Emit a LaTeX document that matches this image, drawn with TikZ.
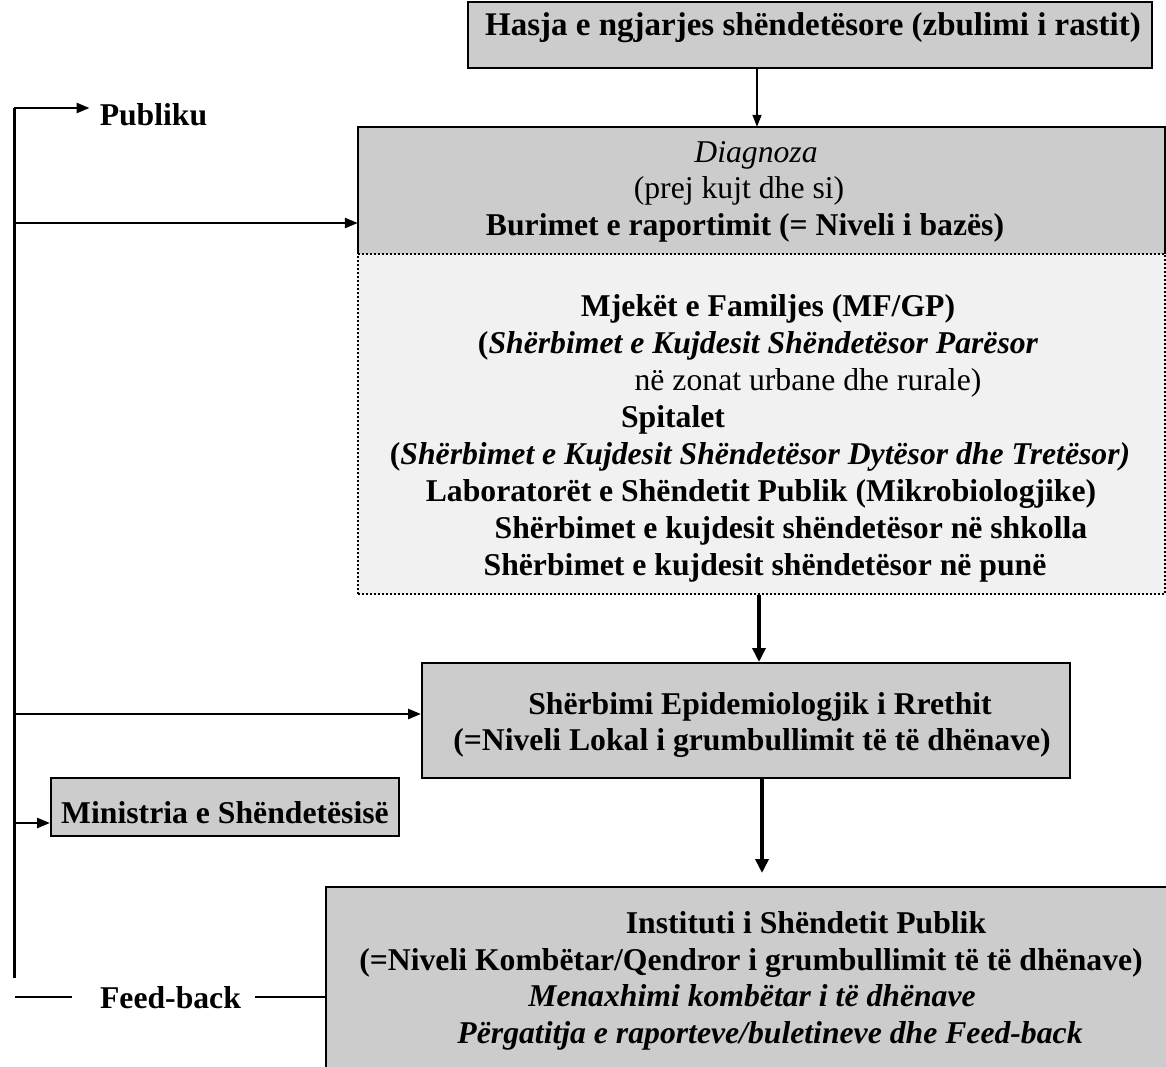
\documentclass[tikz,border=0pt]{standalone}
\usepackage{fontspec}
\setmainfont{Liberation Serif}
\usetikzlibrary{arrows.meta,positioning}
\definecolor{boxgray}{HTML}{CCCCCC}
\definecolor{boxlight}{HTML}{F1F1F1}

\begin{document}
\begin{tikzpicture}[x=1pt,y=-1pt,
  every node/.style={font=\fontsize{31.7}{36.5}\selectfont\bfseries, inner sep=0pt},
  box/.style={draw, line width=2pt, fill=boxgray},
  txt/.style={anchor=base},
  thinarrow/.style={line width=1.5pt, -{Triangle[length=12pt,width=9pt]}},
  thickarrow/.style={line width=4pt, -{Triangle[length=14pt,width=13pt]}},
  branch/.style={line width=2.5pt, -{Triangle[length=13pt,width=10pt]}},
  dots/.style={line width=2pt, dash pattern=on 2pt off 2pt}]
  \useasboundingbox (0,0) rectangle (1166,1066);
  \clip (0,0) rectangle (1166,1066);

  % boxes
  \node[box, minimum width=684, minimum height=66] (hasja) at (810,35) {};
  \node[fill=boxgray, minimum width=807, minimum height=127] (diag) at (761.5,190.5) {};
  \node[fill=boxlight, draw, dots, minimum width=807, minimum height=340] (light) at (761.5,424) {};
  \draw[line width=2pt] (diag.south west) |- (diag.north east) -- (diag.south east);
  \node[box, minimum width=648, minimum height=115] (rreth) at (746,720.5) {};
  \node[box, minimum width=348, minimum height=58] (mini) at (225,807) {};
  \node[box, minimum width=854, minimum height=193] (inst) at (753,983.5) {};

  % texts
  \node[txt, font=\fontsize{33}{38}\selectfont\bfseries] (hasjaT) at (813,35) {Hasja e ngjarjes shëndetësore (zbulimi i rastit)};
  \node[txt, font=\fontsize{31.7}{36.5}\selectfont\itshape] (diag1) at (756,162) {Diagnoza};
  \node[txt, font=\fontsize{31.7}{36.5}\selectfont] (diag2) at (739,198.5) {(prej kujt dhe si)};
  \node[txt] (diag3) at (745,235) {Burimet e raportimit (= Niveli i bazës)};

  \node[txt] (l1) at (768,316) {Mjekët e Familjes (MF/GP)};
  \node[txt] (l2) at (758,353) {(\itshape Shërbimet e Kujdesit Shëndetësor Parësor};
  \node[txt, font=\fontsize{31.7}{36.5}\selectfont] (l3) at (808,390) {në zonat urbane dhe rurale)};
  \node[txt] (l4) at (673,427) {Spitalet};
  \node[txt] (l5) at (760,464) {(\itshape Shërbimet e Kujdesit Shëndetësor Dytësor dhe Tretësor)};
  \node[txt] (l6) at (761,501) {Laboratorët e Shëndetit Publik (Mikrobiologjike)};
  \node[txt] (l7) at (791,538) {Shërbimet e kujdesit shëndetësor në shkolla};
  \node[txt] (l8) at (765,575) {Shërbimet e kujdesit shëndetësor në punë};

  \node[txt] (rreth1) at (760,714) {Shërbimi Epidemiologjik i Rrethit};
  \node[txt] (rreth2) at (752,750.5) {(=Niveli Lokal i grumbullimit të të dhënave)};

  \node[txt] (miniT) at (225,823) {Ministria e Shëndetësisë};

  \node[txt] (inst1) at (806,933.5) {Instituti i Shëndetit Publik};
  \node[txt] (inst2) at (751,970) {(=Niveli Kombëtar/Qendror i grumbullimit të të dhënave)};
  \node[txt, font=\fontsize{31.7}{36.5}\selectfont\bfseries\itshape] (inst3) at (752,1006.5) {Menaxhimi kombëtar i të dhënave};
  \node[txt, font=\fontsize{31.7}{36.5}\selectfont\bfseries\itshape] (inst4) at (770,1043) {Përgatitja e raporteve/buletineve dhe Feed-back};

  \node[txt] (publ) at (153.5,125) {Publiku};
  \node[txt] (fb) at (170.5,1008) {Feed-back};

  % flow down
  \draw[thinarrow] ([xshift=-53pt]hasja.south) -- ([xshift=-53pt]hasja.south |- diag.north);
  \draw[thickarrow] ([xshift=-2.5pt]light.south) -- ([xshift=-2.5pt]light.south |- rreth.north);
  \draw[thickarrow, shorten >=13pt] ([xshift=16pt]rreth.south) -- ([xshift=16pt]rreth.south |- inst.north);

  % feed-back trunk
  \coordinate (jpubl) at (14,108);
  \coordinate (jdiag) at (14,223);
  \coordinate (jrreth) at (14,714);
  \coordinate (jmini) at (14,823);
  \coordinate (jend) at (14,978);
  \draw[line width=3pt] (jpubl) -- (jend);
  \draw[branch, shorten >=10pt] (jpubl) -- (jpubl -| publ.west);
  \draw[branch] (jdiag) -- (jdiag -| diag.west);
  \draw[branch] (jrreth) -- (jrreth -| rreth.west);
  \draw[branch] (jmini) -- (jmini -| mini.west);

  \coordinate (fbl) at (15,997);
  \draw[line width=2pt, shorten >=28pt] (fbl) -- (fbl -| fb.west);
  \draw[line width=2pt, shorten <=14pt] (fbl -| fb.east) -- (fbl -| inst.west);
\end{tikzpicture}
\end{document}
